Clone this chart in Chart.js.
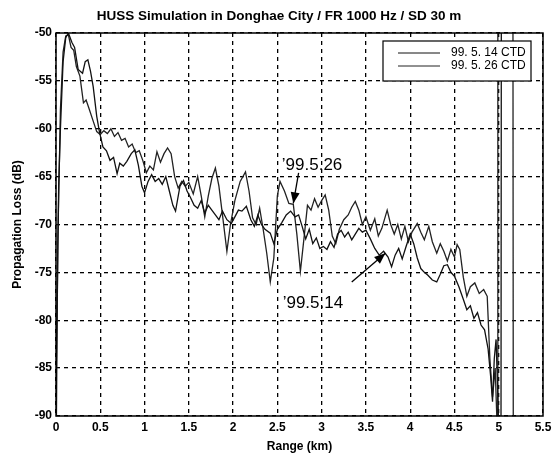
<!DOCTYPE html>
<html>
<head>
<meta charset="utf-8">
<script src="https://cdn.jsdelivr.net/npm/chart.js@4.4.1/dist/chart.umd.min.js"></script>
<style>
  html, body { margin: 0; padding: 0; background: #fff; }
  #wrap { width: 557px; height: 461px; }
</style>
</head>
<body>
<div id="wrap"><canvas id="chart" width="557" height="461"></canvas></div>
<script>
// Tick labels
const xTicks = [0, 0.5, 1, 1.5, 2, 2.5, 3, 3.5, 4, 4.5, 5, 5.5];
const yTicks = [-90, -85, -80, -75, -70, -65, -60, -55, -50];

// '99.5.26 CTD run (range in km, loss in dB)
const rangeA = [0.00, 0.02, 0.05, 0.08, 0.11, 0.14, 0.17, 0.20, 0.23, 0.27, 0.31, 0.34, 0.37, 0.42, 0.46,
  0.50, 0.54, 0.58, 0.62, 0.66, 0.70, 0.74, 0.78, 0.82, 0.86, 0.90, 0.94, 0.98, 1.02, 1.06, 1.10,
  1.14, 1.18, 1.22, 1.26, 1.30, 1.34, 1.38, 1.42, 1.46, 1.50, 1.55, 1.60, 1.64, 1.68, 1.72, 1.76,
  1.80, 1.84, 1.88, 1.93, 1.97, 2.02, 2.08, 2.14, 2.18, 2.22, 2.26, 2.30, 2.34, 2.38, 2.42, 2.46,
  2.50, 2.53, 2.58, 2.63, 2.68, 2.72, 2.76, 2.80, 2.84, 2.88, 2.92, 2.96, 3.00, 3.04, 3.08, 3.12,
  3.16, 3.20, 3.25, 3.30, 3.34, 3.38, 3.42, 3.46, 3.50, 3.55, 3.60, 3.64, 3.68, 3.74, 3.78, 3.82,
  3.86, 3.90, 3.94, 3.98, 4.02, 4.08, 4.12, 4.16, 4.21, 4.25, 4.30, 4.34, 4.38, 4.42, 4.46, 4.50,
  4.53, 4.56, 4.60, 4.64, 4.68, 4.73, 4.78, 4.83, 4.87, 4.90, 4.93, 4.96, 4.985, 4.99, 5.16, 5.165];
const lossA = [-96, -72, -58, -52, -50.3, -50.2, -51.5, -51.8, -53.5, -54.5, -57.3, -57.0, -57.8, -59.2, -60.3,
  -60.6, -60.2, -60.5, -60.0, -60.8, -60.4, -61.2, -61.0, -61.9, -61.6, -62.5, -62.3, -63.3, -64.6, -63.9, -64.3,
  -62.4, -63.5, -62.6, -62.0, -62.6, -65.0, -66.2, -65.5, -66.0, -65.6, -66.8, -65.0, -67.0, -69.2, -67.0, -65.2,
  -64.1, -66.0, -69.0, -72.8, -70.0, -67.5, -65.5, -64.5, -66.5, -69.3, -70.0, -68.3, -70.5, -73.0, -76.0, -73.5,
  -67.0, -65.5, -66.5, -67.8, -67.9, -71.0, -74.9, -71.5, -68.0, -68.5, -67.3, -68.2, -67.5, -66.9, -68.5, -71.2,
  -72.0, -70.5, -69.5, -69.0, -68.2, -67.6, -68.5, -70.0, -69.2, -70.6, -69.4, -71.2, -70.4, -68.5, -70.0, -71.0,
  -70.0, -71.5, -70.2, -71.8, -70.8, -69.9, -70.8, -71.6, -70.2, -71.8, -73.0, -72.0, -72.8, -73.8, -72.6, -73.4,
  -72.1, -72.6, -75.5, -77.5, -76.5, -76.1, -77.2, -76.8, -77.5, -84, -88, -85, -92, -40, -40, -100];

// '99.5.14 CTD run
const rangeB = [0.00, 0.03, 0.05, 0.08, 0.11, 0.14, 0.18, 0.21, 0.25, 0.30, 0.33, 0.36, 0.39, 0.42, 0.46,
  0.49, 0.53, 0.57, 0.61, 0.65, 0.69, 0.72, 0.76, 0.80, 0.85, 0.89, 0.93, 0.97, 1.00, 1.04, 1.08,
  1.12, 1.16, 1.20, 1.24, 1.28, 1.32, 1.35, 1.40, 1.44, 1.48, 1.52, 1.56, 1.60, 1.64, 1.68, 1.72,
  1.76, 1.80, 1.84, 1.88, 1.93, 1.98, 2.02, 2.06, 2.10, 2.15, 2.20, 2.24, 2.28, 2.32, 2.36, 2.42,
  2.46, 2.50, 2.55, 2.60, 2.65, 2.70, 2.74, 2.78, 2.82, 2.86, 2.90, 2.94, 2.98, 3.02, 3.06, 3.10,
  3.14, 3.18, 3.22, 3.26, 3.30, 3.34, 3.38, 3.42, 3.46, 3.50, 3.55, 3.60, 3.65, 3.70, 3.75, 3.79,
  3.83, 3.87, 3.91, 3.95, 4.00, 4.04, 4.08, 4.12, 4.16, 4.20, 4.25, 4.30, 4.34, 4.38, 4.42, 4.46,
  4.50, 4.55, 4.60, 4.64, 4.68, 4.72, 4.76, 4.80, 4.84, 4.88, 4.91, 4.93, 4.95, 4.97, 4.99, 5.01,
  5.025, 5.03];
const lossB = [-88, -66, -60, -53, -50.5, -50.0, -51.0, -51.5, -53.8, -54.2, -53.0, -52.8, -54.0, -55.6, -58.7,
  -60.3, -61.9, -62.3, -63.3, -63.0, -64.7, -63.6, -63.9, -63.4, -62.6, -62.2, -63.8, -66.0, -66.7, -65.5, -64.8,
  -65.5, -65.2, -65.8, -65.0, -66.5, -68.0, -68.6, -66.0, -65.4, -66.5, -67.2, -68.0, -68.3, -67.5, -68.8, -68.0,
  -68.5, -69.0, -69.5, -68.6, -69.5, -69.9, -69.2, -68.5, -68.6, -68.1, -69.5, -70.2, -69.0, -70.0, -70.5, -70.9,
  -72.0, -70.5, -69.8, -69.0, -68.6, -69.2, -69.0, -70.2, -71.5, -70.5, -72.0, -71.4, -72.5, -72.3, -72.6, -71.8,
  -72.4, -71.0, -70.6, -71.3, -70.8, -71.6, -71.0, -70.4, -70.8, -70.6, -71.5, -72.5, -73.2, -72.8, -73.4, -74.4,
  -73.2, -72.5, -73.6, -72.4, -71.0, -72.0, -73.5, -74.6, -75.0, -75.3, -75.8, -76.0, -75.2, -74.3, -74.2, -75.0,
  -75.4, -76.5, -77.8, -78.9, -78.5, -79.8, -79.2, -80.5, -81.0, -83, -86, -88.5, -84, -82, -88, -95,
  -100, -40];

const seriesLabels = ['99. 5. 14 CTD', '99. 5. 26 CTD'];

function toPoints(xs, ys) {
  return xs.map((x, i) => ({ x: x, y: ys[i] }));
}

const tickFont = { family: 'Liberation Sans, Arial, sans-serif', size: 12, weight: 'bold' };

// frame, title, legend and the two arrow notes
const decor = {
  id: 'decor',
  afterDraw(chart) {
    const ctx = chart.ctx;
    const a = chart.chartArea;
    const xs = chart.scales.x, ys = chart.scales.y;

    ctx.save();
    ctx.strokeStyle = '#000';
    ctx.lineWidth = 1.5;
    ctx.setLineDash([]);
    ctx.strokeRect(a.left, a.top, a.right - a.left, a.bottom - a.top);

    // title
    ctx.fillStyle = '#000';
    ctx.font = 'bold 13.5px Liberation Sans, Arial, sans-serif';
    ctx.textAlign = 'center';
    ctx.textBaseline = 'alphabetic';
    ctx.fillText('HUSS Simulation in Donghae City / FR 1000 Hz / SD 30 m', 279, 20);

    // legend box
    const lx = a.right - 160, ly = a.top + 8, lw = 148, lh = 40;
    ctx.fillStyle = '#fff';
    ctx.fillRect(lx, ly, lw, lh);
    ctx.lineWidth = 1.2;
    ctx.strokeRect(lx, ly, lw, lh);
    ctx.font = '12px Liberation Sans, Arial, sans-serif';
    ctx.textAlign = 'left';
    ctx.textBaseline = 'middle';
    chart.data.datasets.forEach((ds, i) => {
      const yy = ly + 12 + i * 13;
      ctx.strokeStyle = ds.borderColor;
      ctx.lineWidth = 1;
      ctx.beginPath();
      ctx.moveTo(lx + 15, yy);
      ctx.lineTo(lx + 57, yy);
      ctx.stroke();
      ctx.fillStyle = '#000';
      ctx.fillText(ds.label, lx + 68, yy);
    });

    // annotations
    function arrow(x0, y0, x1, y1) {
      const p0 = [xs.getPixelForValue(x0), ys.getPixelForValue(y0)];
      const p1 = [xs.getPixelForValue(x1), ys.getPixelForValue(y1)];
      const ang = Math.atan2(p1[1] - p0[1], p1[0] - p0[0]);
      ctx.strokeStyle = '#000';
      ctx.fillStyle = '#000';
      ctx.lineWidth = 1.3;
      ctx.beginPath();
      ctx.moveTo(p0[0], p0[1]);
      ctx.lineTo(p1[0], p1[1]);
      ctx.stroke();
      const L = 11, W = 4.5;
      ctx.beginPath();
      ctx.moveTo(p1[0], p1[1]);
      ctx.lineTo(p1[0] - L * Math.cos(ang) + W * Math.sin(ang), p1[1] - L * Math.sin(ang) - W * Math.cos(ang));
      ctx.lineTo(p1[0] - L * Math.cos(ang) - W * Math.sin(ang), p1[1] - L * Math.sin(ang) + W * Math.cos(ang));
      ctx.closePath();
      ctx.fill();
    }
    ctx.font = '17px Liberation Sans, Arial, sans-serif';
    ctx.textAlign = 'left';
    ctx.textBaseline = 'alphabetic';
    ctx.fillStyle = '#000';
    ctx.fillText('\u201999.5.26', xs.getPixelForValue(2.55), ys.getPixelForValue(-64.3));
    arrow(2.74, -64.6, 2.68, -67.8);
    ctx.fillText('\u201999.5.14', xs.getPixelForValue(2.56), ys.getPixelForValue(-78.7));
    arrow(3.34, -76.0, 3.72, -73.0);
    ctx.restore();
  }
};

new Chart(document.getElementById('chart'), {
  type: 'line',
  data: {
    datasets: [
      { label: seriesLabels[0], data: toPoints(rangeB, lossB), borderColor: '#111', borderWidth: 1.3 },
      { label: seriesLabels[1], data: toPoints(rangeA, lossA), borderColor: '#222', borderWidth: 1.3 }
    ]
  },
  options: {
    responsive: false,
    animation: false,
    parsing: false,
    elements: { point: { radius: 0 }, line: { tension: 0, fill: false } },
    layout: { padding: { top: 33, right: 14, left: 10, bottom: 7 } },
    plugins: { legend: { display: false }, title: { display: false }, tooltip: { enabled: false } },
    scales: {
      x: {
        type: 'linear', min: 0, max: 5.5,
        afterBuildTicks: s => { s.ticks = xTicks.map(v => ({ value: v })); },
        afterFit: s => { s.height = 38; },
        ticks: { font: tickFont, color: '#000', padding: 4, maxRotation: 0, callback: v => String(v) },
        grid: { color: '#000', lineWidth: 1.3, drawTicks: false },
        border: { display: false, dash: [4, 4] },
        title: { display: true, text: 'Range (km)', font: tickFont, color: '#000', padding: { top: 2, bottom: 0 } }
      },
      y: {
        type: 'linear', min: -90, max: -50,
        afterBuildTicks: s => { s.ticks = yTicks.map(v => ({ value: v })); },
        afterFit: s => { s.width = 46; },
        ticks: { font: tickFont, color: '#000', padding: 4, callback: v => String(v) },
        grid: { color: '#000', lineWidth: 1.3, drawTicks: false },
        border: { display: false, dash: [4, 4] },
        title: { display: true, text: 'Propagation Loss (dB)', font: tickFont, color: '#000', padding: { top: 0, bottom: 2 } }
      }
    }
  },
  plugins: [decor]
});
</script>
</body>
</html>
